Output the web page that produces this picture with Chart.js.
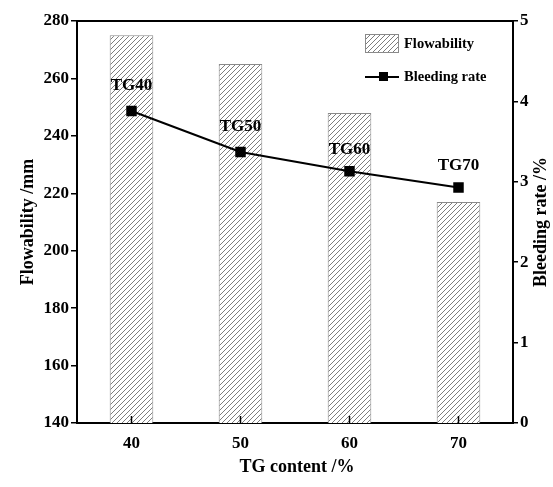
<!DOCTYPE html>
<html>
<head>
<meta charset="utf-8">
<script src="https://cdn.jsdelivr.net/npm/chart.js@4"></script>
<style>
  html, body { margin: 0; padding: 0; background: #fff; }
  #wrap { width: 553px; height: 487px; }
</style>
</head>
<body>
<div id="wrap"><canvas id="myChart" width="553" height="487"></canvas></div>
<script>
const tgContent = ["40", "50", "60", "70"];
const flowability = [275, 265, 248, 217];
const bleedingRate = [3.88, 3.37, 3.13, 2.93];
const pointNames = ["TG40", "TG50", "TG60", "TG70"];

const serif = "'Liberation Serif', 'Times New Roman', serif";

// diagonal hatch fill for the bars
function hatch() {
  var c = document.createElement("canvas");
  c.width = 5; c.height = 5;
  var g = c.getContext("2d");
  g.fillStyle = "#fff";
  g.fillRect(0, 0, 5, 5);
  g.strokeStyle = "#6e6e6e";
  g.lineWidth = 0.9;
  g.beginPath();
  g.moveTo(0, 5); g.lineTo(5, 0);
  g.moveTo(-1, 1); g.lineTo(1, -1);
  g.moveTo(4, 6); g.lineTo(6, 4);
  g.stroke();
  return g.createPattern(c, "repeat");
}
const hatchFill = hatch();

const extras = {
  id: "extras",
  afterDraw(chart) {
    var ctx = chart.ctx;
    var area = chart.chartArea;
    var x = chart.scales.x;
    ctx.save();
    // top frame line
    ctx.strokeStyle = "#000";
    ctx.lineWidth = 2;
    ctx.beginPath();
    ctx.moveTo(area.left - 1, area.top);
    ctx.lineTo(area.right + 1, area.top);
    ctx.stroke();
    // inward ticks on the category axis
    ctx.lineWidth = 1.5;
    for (let i = 0; i < tgContent.length; i++) {
      var px = x.getPixelForTick(i);
      ctx.beginPath();
      ctx.moveTo(px, area.bottom);
      ctx.lineTo(px, area.bottom - 7);
      ctx.stroke();
    }
    // names above the line points
    var meta = chart.getDatasetMeta(1);
    ctx.fillStyle = "#000";
    ctx.font = "bold 17px " + serif;
    ctx.textAlign = "center";
    ctx.textBaseline = "middle";
    meta.data.forEach(function(pt, i) {
      ctx.fillText(pointNames[i], pt.x, pt.y - (i < 2 ? 25 : 22));
    });
    // axis titles
    ctx.font = "bold 18px " + serif;
    ctx.fillText("TG content /%", (area.left + area.right) / 2 + 2, 467);
    var midY = (area.top + area.bottom) / 2;
    ctx.save();
    ctx.translate(28, midY);
    ctx.rotate(-Math.PI / 2);
    ctx.fillText("Flowability /mm", 0, 0);
    ctx.restore();
    ctx.save();
    ctx.translate(541, midY);
    ctx.rotate(-Math.PI / 2);
    ctx.fillText("Bleeding rate /%", 0, 0);
    ctx.restore();
    // legend
    var lx = 365, ly = 34;
    ctx.fillStyle = hatchFill;
    ctx.fillRect(lx, ly, 34, 19);
    ctx.strokeStyle = "#8a8a8a";
    ctx.lineWidth = 1;
    ctx.strokeRect(lx + 0.5, ly + 0.5, 33, 18);
    ctx.fillStyle = "#000";
    ctx.font = "bold 14.5px " + serif;
    ctx.textAlign = "left";
    ctx.fillText("Flowability", 404, 44);
    ctx.strokeStyle = "#000";
    ctx.lineWidth = 2;
    ctx.beginPath();
    ctx.moveTo(365, 77);
    ctx.lineTo(399, 77);
    ctx.stroke();
    ctx.fillRect(379, 72, 9, 9);
    ctx.fillText("Bleeding rate", 404, 77);
    ctx.restore();
  }
};

new Chart("myChart", {
  type: "bar",
  data: {
    labels: tgContent,
    datasets: [{
      label: "Flowability",
      data: flowability,
      yAxisID: "y",
      backgroundColor: hatchFill,
      borderColor: "#8a8a8a",
      borderWidth: 1,
      barPercentage: 0.4,
      categoryPercentage: 1,
      order: 1
    }, {
      type: "line",
      label: "Bleeding rate",
      data: bleedingRate,
      yAxisID: "y1",
      borderColor: "#000",
      backgroundColor: "#000",
      borderWidth: 2,
      pointStyle: "rect",
      pointRadius: 6,
      tension: 0,
      order: 0
    }]
  },
  options: {
    responsive: false,
    animation: false,
    layout: { padding: { top: 21, left: 0, right: 0, bottom: 0 } },
    plugins: {
      legend: { display: false },
      tooltip: { enabled: false }
    },
    scales: {
      x: {
        offset: true,
        grid: { display: true, drawOnChartArea: false, drawTicks: false },
        border: { color: "#000", width: 2 },
        ticks: { color: "#000", padding: 10, font: { family: serif, size: 17, weight: "bold" } },
        afterFit: function(s) { s.height = 64; }
      },
      y: {
        position: "left",
        min: 140,
        max: 280,
        ticks: { stepSize: 20, color: "#000", padding: 2, font: { family: serif, size: 17, weight: "bold" } },
        grid: { drawOnChartArea: false, tickLength: 6, color: "#000", lineWidth: 1.5 },
        border: { color: "#000", width: 2 },
        afterFit: function(s) { s.width = 77; }
      },
      y1: {
        position: "right",
        min: 0,
        max: 5,
        ticks: { stepSize: 1, color: "#000", padding: 2, font: { family: serif, size: 17, weight: "bold" } },
        grid: { drawOnChartArea: false, tickLength: 5, color: "#000", lineWidth: 1.5 },
        border: { color: "#000", width: 2 },
        afterFit: function(s) { s.width = 40; }
      }
    }
  },
  plugins: [extras]
});
</script>
</body>
</html>
